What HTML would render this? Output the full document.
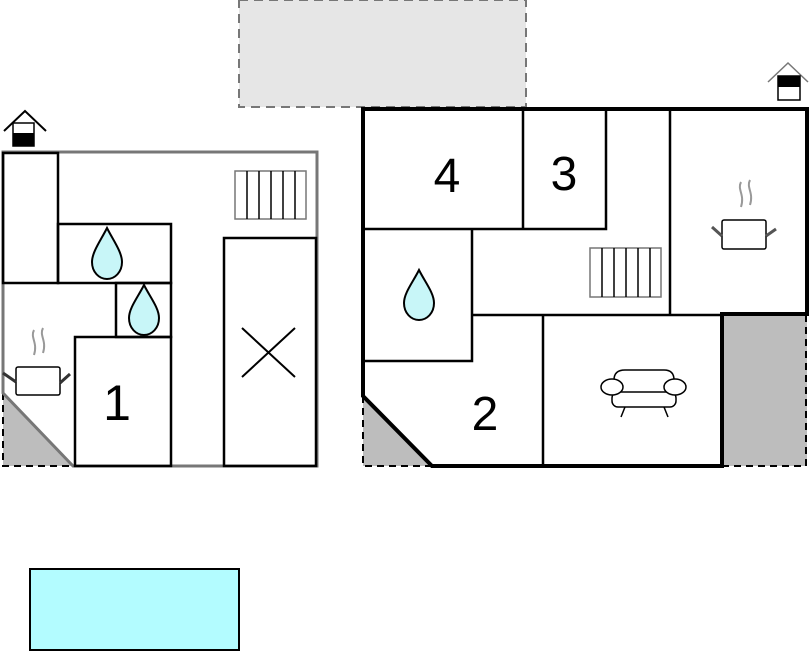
<!DOCTYPE html>
<html><head><style>body{margin:0;background:#fff}svg{display:block}</style></head><body>
<svg width="810" height="652" viewBox="0 0 810 652" xmlns="http://www.w3.org/2000/svg" font-family="Liberation Sans, sans-serif">
<rect x="239" y="0" width="287" height="107" fill="#e6e6e6" stroke="#777" stroke-width="2" stroke-dasharray="9,6"/>
<rect x="30" y="569" width="209" height="81" fill="#b3fcff" stroke="#000" stroke-width="2"/>
<!-- left plan -->
<polygon points="3,393 73,466 3,466" fill="#bdbdbd"/>
<path d="M3,393 V466 H73" fill="none" stroke="#000" stroke-width="2" stroke-dasharray="7,5"/>
<path d="M3,393 V152 H317 V466 H73 Z" fill="none" stroke="#777" stroke-width="3"/>
<g fill="none" stroke="#000" stroke-width="2.5">
<rect x="3" y="153" width="55" height="130"/>
<rect x="58" y="224" width="113" height="59"/>
<rect x="116" y="283" width="55" height="54"/>
<rect x="75" y="337" width="96" height="129"/>
<rect x="224" y="238" width="92" height="228"/>
<path d="M242,328 L295,377 M295,328 L242,377" stroke-width="2"/>
</g>
<rect x="235" y="171" width="71" height="48" fill="none" stroke="#777" stroke-width="1.5"/>
<path d="M247,171V219M259,171V219M271,171V219M283,171V219M295,171V219" stroke="#000" stroke-width="1.5"/>
<g fill="#c8f6f8" stroke="#000" stroke-width="2">
<path d="M107,228 C101,240 92,252 92,262 C92,272 99,279 107,279 C115,279 122,272 122,262 C122,252 113,240 107,228 Z"/>
<path d="M144,285 C138,297 129,308 129,318 C129,328 136,335 144,335 C152,335 159,328 159,318 C159,308 150,297 144,285 Z"/>
</g>
<rect x="16" y="367" width="44" height="28" rx="2" fill="#fff" stroke="#000" stroke-width="1.5"/>
<path d="M3,373 L16,382 M60,383 L70,374" stroke="#333" stroke-width="3"/>
<path d="M34,330 c-4,8 4,12 0,25 M43,328 c-4,8 4,12 0,25" stroke="#999" stroke-width="2" fill="none"/>
<path d="M4,131 L25,111 L46,131" fill="none" stroke="#000" stroke-width="2"/>
<rect x="13" y="123" width="21" height="23" fill="#fff" stroke="#000" stroke-width="1.5"/>
<rect x="13" y="133" width="21" height="13" fill="#000"/>
<text x="117" y="420" font-size="50" text-anchor="middle">1</text>
<!-- right plan -->
<polygon points="363,396 432,466 363,466" fill="#bdbdbd"/>
<rect x="722" y="314" width="85" height="152" fill="#bdbdbd"/>
<path d="M363,396 V466 H432 M722,466 H806 V314" fill="none" stroke="#000" stroke-width="2" stroke-dasharray="7,5"/>
<g fill="none" stroke="#000" stroke-width="2.5">
<path d="M523,109 V229 M363,229 H606 V109 M670,109 V314 M472,229 V361 H363 M472,315 H722 M543,315 V466"/>
</g>
<path d="M363,396 V109 H807 V314 H722 V466 H432 Z" fill="none" stroke="#000" stroke-width="4"/>
<rect x="590" y="248" width="71" height="49" fill="none" stroke="#777" stroke-width="1.5"/>
<path d="M602,248V297M614,248V297M626,248V297M638,248V297M650,248V297" stroke="#000" stroke-width="1.5"/>
<path d="M419,270 C413,282 404,293 404,303 C404,313 411,320 419,320 C427,320 434,313 434,303 C434,293 425,282 419,270 Z" fill="#c8f6f8" stroke="#000" stroke-width="2"/>
<rect x="722" y="220" width="44" height="29" rx="2" fill="#fff" stroke="#000" stroke-width="1.5"/>
<path d="M712,227 L722,236 M766,236 L776,229" stroke="#555" stroke-width="3"/>
<path d="M741,182 c-4,8 4,12 0,25 M750,180 c-4,8 4,12 0,25" stroke="#999" stroke-width="2" fill="none"/>
<g fill="#fff" stroke="#000" stroke-width="1.5">
<path d="M614,403 V380 Q614,370 625,370 H664 Q674,370 674,380 V403 Z"/>
<rect x="612" y="392" width="64" height="15" rx="6"/>
<ellipse cx="612" cy="387" rx="11" ry="8"/>
<ellipse cx="675" cy="387" rx="11" ry="8"/>
<path d="M625,407 L621,417 M664,407 L668,417"/>
</g>
<path d="M768,82 L788,63 L808,82" fill="none" stroke="#777" stroke-width="1.5"/>
<rect x="778" y="76" width="22" height="24" fill="#fff" stroke="#000" stroke-width="1.5"/>
<rect x="778" y="76" width="22" height="11" fill="#000"/>
<text x="447" y="192" font-size="48" text-anchor="middle">4</text>
<text x="564" y="190" font-size="48" text-anchor="middle">3</text>
<text x="485" y="430" font-size="48" text-anchor="middle">2</text>
</svg>
</body></html>
